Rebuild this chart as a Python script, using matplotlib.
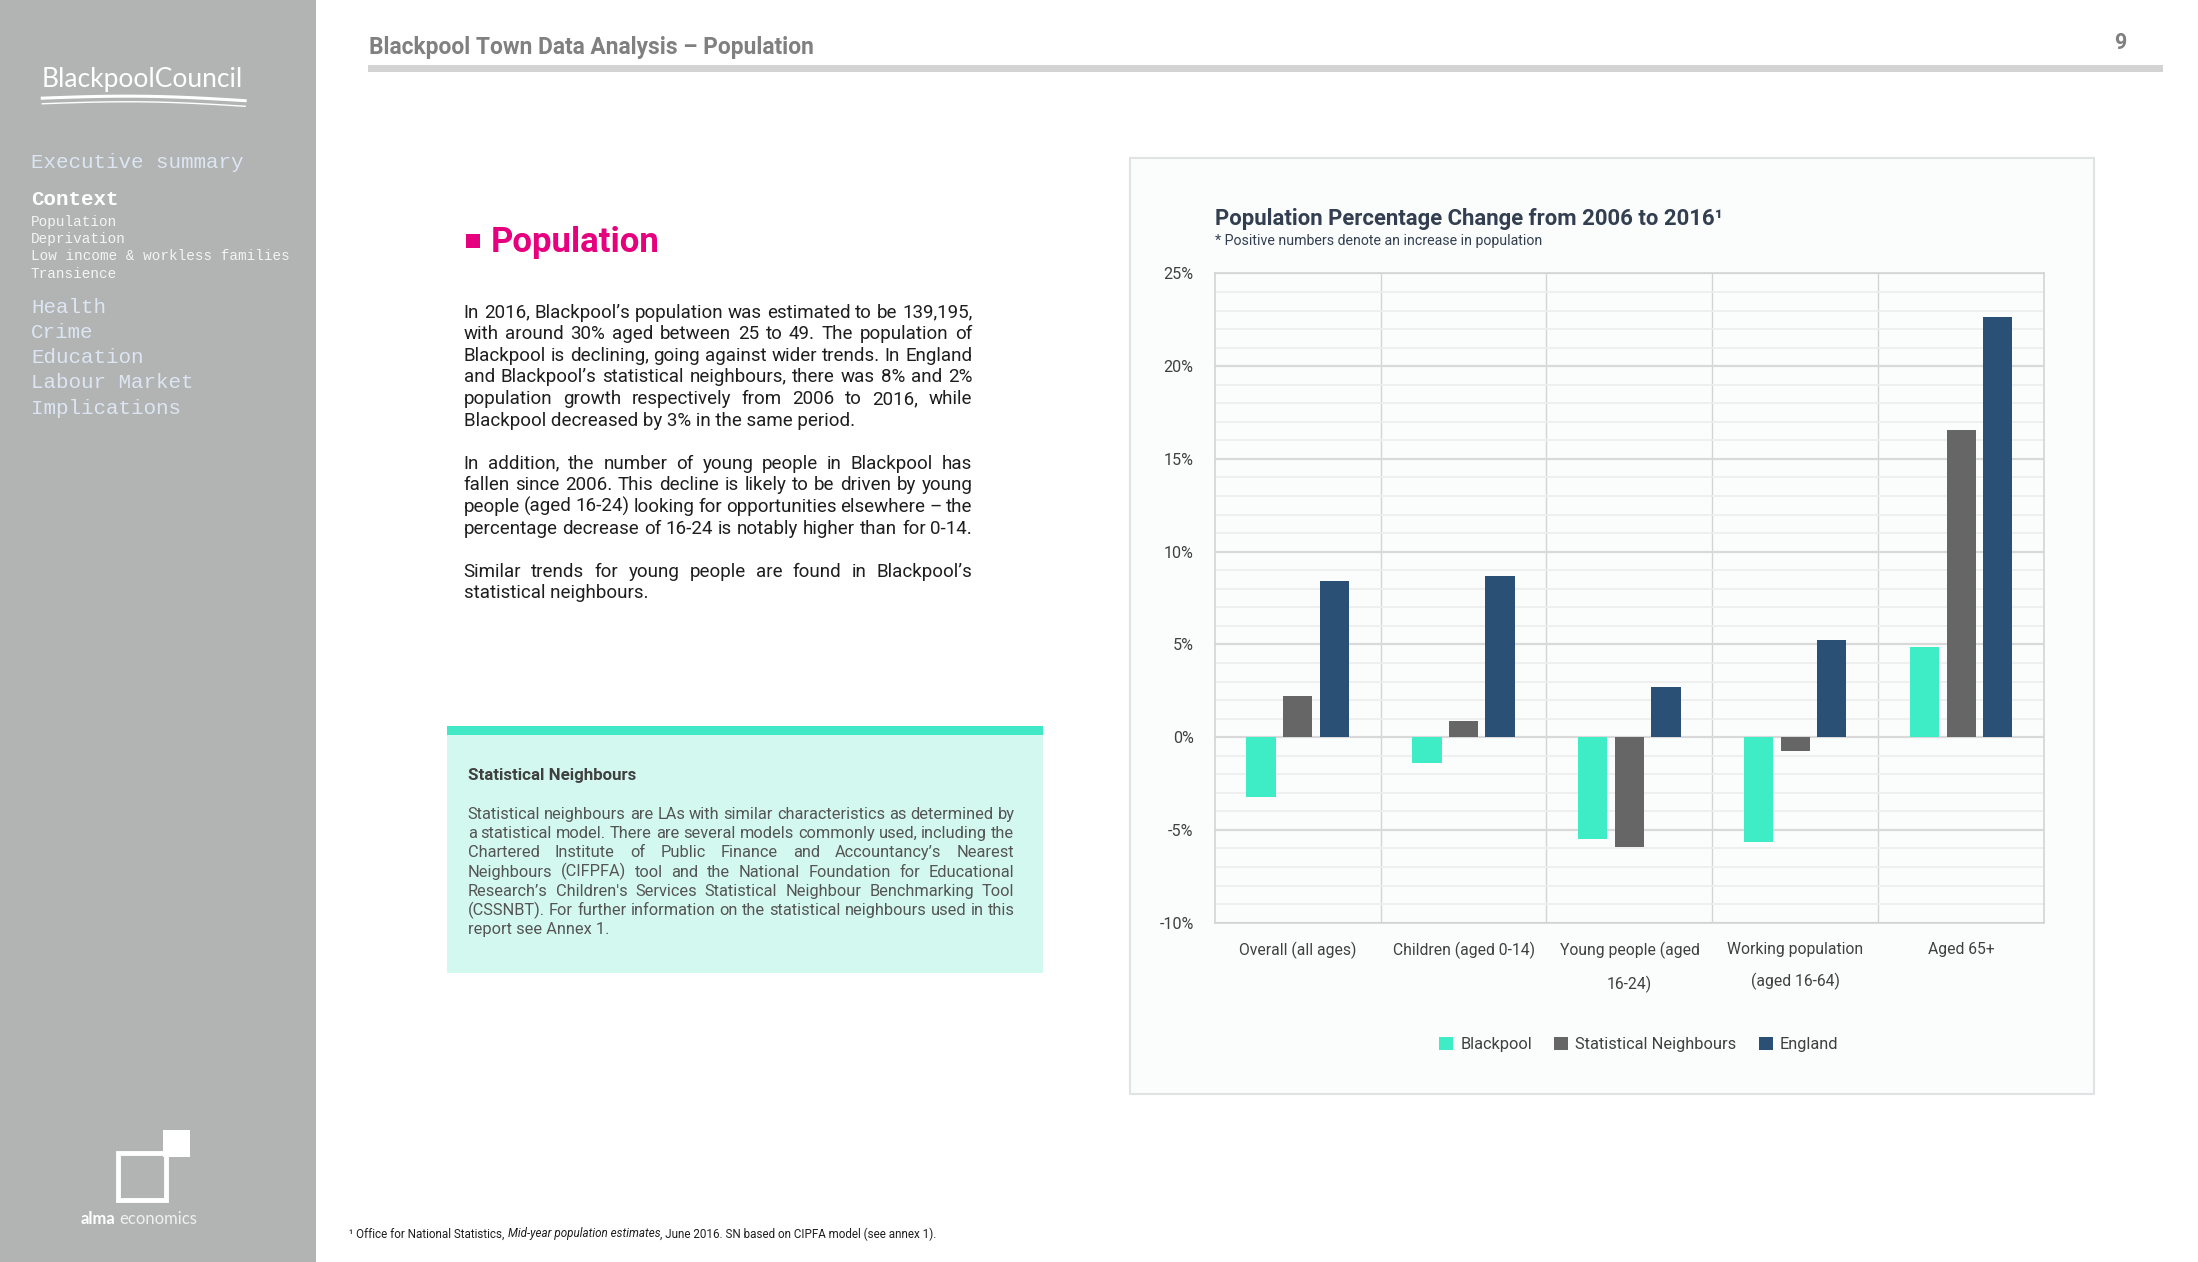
import numpy as np
import matplotlib
matplotlib.use("Agg")
import matplotlib.pyplot as plt
from matplotlib.patches import Rectangle
from matplotlib.ticker import MultipleLocator, FixedLocator, FuncFormatter

# chart data
categories = ["Overall (all ages)", "Children (aged 0-14)", "Young people (aged\n16-24)",
              "Working population\n(aged 16-64)", "Aged 65+"]
series_names = ["Blackpool", "Statistical Neighbours", "England"]
blackpool = [-3.2, -1.4, -5.5, -5.65, 4.85]
stat_neighbours = [2.2, 0.85, -5.9, -0.75, 16.55]
england = [8.4, 8.7, 2.7, 5.25, 22.65]
y_ticks = [-10, -5, 0, 5, 10, 15, 20, 25]

colors = ["#3eedc5", "#666666", "#2a5075"]

plt.rcParams["font.family"] = ["Roboto", "DejaVu Sans"]

W, H = 2198, 1262
fig = plt.figure(figsize=(W / 100, H / 100), dpi=100)
fig.patch.set_facecolor("white")
renderer = fig.canvas.get_renderer()


# layout was measured on a 1560x900 view of the page
def fx(px):
    return px / 1560


def fy(py):
    return 1 - py / 900


def box(x0, y0, x1, y1, **kw):
    kw.setdefault("zorder", -1)
    fig.patches.append(Rectangle((fx(x0), fy(y1)), fx(x1) - fx(x0), fy(y0) - fy(y1),
                                 transform=fig.transFigure, **kw))


def width_of(t):
    return t.get_window_extent(renderer).width / W


def text_line(x0, x1, y, line, justify=True, **kw):
    """Draw one line of text, spreading the words out to fill x0..x1 if justify."""
    words = line.split()
    if not justify or len(words) < 2:
        fig.text(fx(x0), fy(y), line, va="baseline", **kw)
        return
    objs = [fig.text(0, fy(y), w, va="baseline", **kw) for w in words]
    widths = [width_of(o) for o in objs]
    gap = (fx(x1) - fx(x0) - sum(widths)) / (len(words) - 1)
    x = fx(x0)
    for o, w in zip(objs, widths):
        o.set_x(x)
        x += w + gap


# ---- sidebar ----
box(0, 0, 224, 900, facecolor="#b2b3b3", edgecolor="none")
fig.text(fx(101), fy(57), "BlackpoolCouncil", color="white", fontsize=19,
         ha="center", va="center", family=["Lato", "DejaVu Sans"])
wave_x = np.linspace(fx(30), fx(174), 60)
for off, lw in [(0, 2.2), (4, 1.0)]:
    wave_y = fy(70 + off) + 0.0025 * np.sin(np.linspace(0, np.pi, 60)) - 0.002 * np.linspace(0, 1, 60)
    fig.lines.append(plt.Line2D(wave_x, wave_y, transform=fig.transFigure, color="white", lw=lw))

mono = ["Liberation Mono", "DejaVu Sans Mono"]
menu_blue = "#dce6f2"
fig.text(fx(22), fy(116), "Executive summary", color=menu_blue, fontsize=15, family=mono, va="center")
fig.text(fx(22), fy(142), "Context", color="white", fontsize=15, family=mono, weight="bold", va="center")
for i, item in enumerate(["Population", "Deprivation", "Low income & workless families", "Transience"]):
    fig.text(fx(22), fy(158 + i * 12.4), item, color="#f4f4f4", fontsize=10.4, family=mono, va="center")
for i, item in enumerate(["Health", "Crime", "Education", "Labour Market", "Implications"]):
    fig.text(fx(22), fy(219 + i * 18), item, color=menu_blue, fontsize=15, family=mono, va="center")

# alma economics logo
box(84, 822, 118, 856, facecolor="none", edgecolor="white", lw=3.5, zorder=1)
box(116, 806, 135, 825, facecolor="white", edgecolor="none", zorder=1)
t_alma = fig.text(fx(57), fy(869), "alma", color="white", fontsize=12, weight="bold", va="center",
                  family=["Lato", "DejaVu Sans"])
fig.text(fx(57) + width_of(t_alma) + fx(3), fy(869), "economics", color="#f0f0f0", fontsize=12,
         va="center", family=["Lato", "DejaVu Sans"])

# ---- page header ----
fig.text(fx(262), fy(34), "Blackpool Town Data Analysis \u2013 Population", color="#808080",
         fontsize=16.4, weight="bold", va="center")
fig.text(fx(1505), fy(31), "9", color="#808080", fontsize=15.5, weight="bold", va="center", ha="center")
box(261, 46, 1535, 51, facecolor="#d3d3d3", edgecolor="none")

# ---- section heading and body text ----
box(331, 167, 341, 177, facecolor="#e6007e", edgecolor="none")
fig.text(fx(348), fy(173), "Population", color="#e6007e", fontsize=25, weight="bold", va="center")

body = [
    ("In 2016, Blackpool\u2019s population was estimated to be 139,195,", True),
    ("with around 30% aged between 25 to 49.  The population of", True),
    ("Blackpool is declining, going against wider trends. In England", True),
    ("and Blackpool\u2019s statistical neighbours, there was 8% and 2%", True),
    ("population growth respectively from 2006 to 2016, while", True),
    ("Blackpool decreased by 3% in the same period.", False),
    None,
    ("In addition, the number of young people in Blackpool has", True),
    ("fallen since 2006. This decline is likely to be driven by young", True),
    ("people (aged 16-24) looking for opportunities elsewhere \u2013 the", True),
    ("percentage decrease of 16-24 is notably higher than for 0-14.", True),
    None,
    ("Similar trends for young people are found in Blackpool\u2019s", True),
    ("statistical neighbours.", False),
]
y = 226.5
for entry in body:
    if entry is None:
        y += 15.4
        continue
    line, just = entry
    text_line(329, 690, y, line, just, fontsize=13.5, color="#1e1e1e")
    y += 15.4

# ---- statistical neighbours box ----
box(317, 524, 740, 694, facecolor="#d3f8ef", edgecolor="none")
box(317, 518, 740, 524, facecolor="#40e8c6", edgecolor="none")
fig.text(fx(332), fy(553), "Statistical Neighbours", color="#404040", fontsize=12.2,
         weight="bold", va="center")
box_lines = [
    ("Statistical neighbours are LAs with similar characteristics as determined by", True),
    ("a statistical model. There are several models commonly used, including the", True),
    ("Chartered Institute of Public Finance and Accountancy\u2019s Nearest", True),
    ("Neighbours (CIFPFA) tool and the National Foundation for Educational", True),
    ("Research\u2019s Children's Services Statistical Neighbour Benchmarking Tool", True),
    ("(CSSNBT).  For further information on the statistical neighbours used in this", True),
    ("report see Annex 1.", False),
]
for i, (line, just) in enumerate(box_lines):
    text_line(332, 720, 584 + i * 13.7, line, just, fontsize=11.8, color="#555555")

# ---- footnote ----
foot = [("\u00b9 Office for National Statistics, ", "normal"),
        ("Mid-year population estimates", "italic"),
        (", June 2016. SN based on CIPFA model (see annex 1).", "normal")]
x = fx(248)
for part, style in foot:
    t = fig.text(x, fy(880), part, fontsize=8.4, style=style, color="#1e1e1e", va="center")
    x += width_of(t)

# ---- chart panel ----
box(802, 113, 1486, 780, facecolor="#fbfdfd", edgecolor="#dfe3e3", lw=1.5)
fig.text(fx(862), fy(156), "Population Percentage Change from 2006 to 2016\u00b9", color="#333f50",
         fontsize=15.9, weight="bold", va="center")
fig.text(fx(862), fy(172), "* Positive numbers denote an increase in population", color="#333f50",
         fontsize=10.2, va="center")

ax = fig.add_axes([fx(862), fy(658), fx(1451) - fx(862), fy(195) - fy(658)])
ax.set_facecolor("none")
x = np.arange(len(categories))
offsets = [-0.22, 0.0, 0.22]
for vals, name, col, off in zip([blackpool, stat_neighbours, england], series_names, colors, offsets):
    ax.bar(x + off, vals, width=0.175, color=col, label=name, zorder=3)

ax.set_xlim(-0.5, len(categories) - 0.5)
ax.set_ylim(y_ticks[0], y_ticks[-1])
ax.set_yticks(y_ticks)
ax.yaxis.set_minor_locator(MultipleLocator(1))
ax.yaxis.set_major_formatter(FuncFormatter(lambda v, _: f"{v:.0f}%"))
ax.set_xticks(x)
ax.set_xticklabels(categories, linespacing=2.2)
ax.xaxis.set_minor_locator(FixedLocator(x[:-1] + 0.5))

ax.grid(axis="y", which="minor", color="#eeeeee", lw=1.3, zorder=0)
ax.grid(axis="y", which="major", color="#d9d9d9", lw=1.6, zorder=1)
ax.grid(axis="x", which="minor", color="#d4d4d4", lw=1.0, zorder=1)
ax.set_axisbelow(True)
ax.tick_params(which="both", length=0)
ax.tick_params(axis="y", pad=15, labelsize=11.6, labelcolor="#404040")
ax.tick_params(axis="x", pad=14, labelsize=11.3, labelcolor="#404040")
for s in ax.spines.values():
    s.set_color("#d4d4d4")
    s.set_linewidth(1.2)

fig.legend(*ax.get_legend_handles_labels(), loc="center", bbox_to_anchor=(fx(1163), fy(745)),
           ncol=3, frameon=False, fontsize=11.8, handlelength=0.85, handleheight=0.85,
           handletextpad=0.45, columnspacing=1.35, labelcolor="#404040")

plt.savefig("out.png", dpi=100)
